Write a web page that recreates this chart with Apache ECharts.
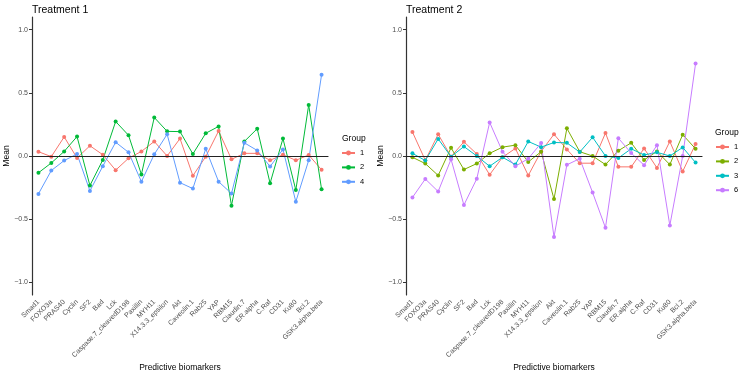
<!DOCTYPE html>
<html>
<head>
<meta charset="utf-8">
<script src="https://cdn.jsdelivr.net/npm/echarts@6/dist/echarts.min.js"></script>
<style>
  html, body { margin: 0; padding: 0; background: #fff; }
  #chart { width: 747px; height: 377px; }
</style>
</head>
<body>
<div id="chart"></div>
<script>
const categories = ['Smad1', 'FOXO3a', 'PRAS40', 'Cyclin', 'SF2', 'Bad', 'Lck',
  'Caspase.7_cleavedD198', 'Paxillin', 'MYH11', 'X14.3.3_epsilon', 'Akt',
  'Caveolin.1', 'Rab25', 'YAP', 'RBM15', 'Claudin.7', 'ER.alpha', 'C.Raf',
  'CD31', 'Ku80', 'Bcl.2', 'GSK3.alpha.beta']
const yTicks = [-1, -0.5, 0, 0.5, 1]

// Treatment 1
const t1Groups = ['1', '2', '4']
const t1g1 = [0.034, -0.005, 0.151, -0.016, 0.081, 0.01, -0.112, -0.018, 0.036, 0.115, 0.0, 0.138,
  -0.156, -0.005, 0.198, -0.026, 0.021, 0.021, -0.034, 0.01, -0.034, 0.008, -0.109]
const t1g2 = [-0.133, -0.055, 0.036, 0.154, -0.234, -0.031, 0.273, 0.164, -0.146, 0.305, 0.195, 0.193,
  0.016, 0.18, 0.234, -0.393, 0.115, 0.216, -0.216, 0.138, -0.27, 0.404, -0.263]
const t1g4 = [-0.30, -0.115, -0.036, 0.016, -0.276, -0.081, 0.109, 0.029, -0.203, 0.013, 0.172, -0.211,
  -0.258, 0.057, -0.203, -0.297, 0.104, 0.044, -0.083, 0.052, -0.362, -0.034, 0.643]

// Treatment 2
const t2Groups = ['1', '2', '3', '6']
const t2g1 = [0.19, -0.034, 0.172, -0.005, 0.112, 0.016, -0.148, -0.01, 0.06, -0.154, 0.036, 0.172,
  0.052, -0.057, -0.057, 0.182, -0.086, -0.086, 0.06, -0.094, 0.115, -0.122, 0.094]
const t2g2 = [-0.01, -0.06, -0.154, 0.065, -0.107, -0.06, 0.021, 0.07, 0.086, -0.047, 0.034, -0.341,
  0.219, 0.034, 0.0, -0.068, 0.042, 0.104, -0.031, 0.036, -0.068, 0.169, 0.057]
const t2g3 = [0.021, -0.036, 0.135, -0.005, 0.075, 0.0, -0.081, -0.01, -0.068, 0.115, 0.07, 0.107,
  0.104, 0.031, 0.148, 0.0, -0.016, 0.057, 0.008, 0.029, 0.0, 0.068, -0.052]
const t2g6 = [-0.328, -0.182, -0.281, -0.026, -0.388, -0.18, 0.266, 0.034, -0.081, -0.021, 0.102, -0.641,
  -0.07, -0.021, -0.289, -0.568, 0.141, 0.023, -0.073, 0.086, -0.55, 0.0, 0.732]

const FONT = 'Liberation Sans'
const colorsT1 = ['#F8766D', '#00BA38', '#619CFF']
const colorsT2 = ['#F8766D', '#7CAE00', '#00BFC4', '#C77CFF']

const fmt = v => (v < 0 ? '\u2212' : '') + Math.abs(v).toFixed(1)

function xAxisFor(idx) {
  return {
    type: 'category', gridIndex: idx, data: categories, boundaryGap: true,
    name: 'Predictive biomarkers', nameLocation: 'middle', nameGap: 68,
    nameMoveOverlap: false,
    nameTextStyle: { color: '#000', fontSize: 8.5, fontFamily: FONT },
    axisLine: { lineStyle: { color: '#222', width: 1.1 } },
    axisTick: { alignWithLabel: true, length: 3, lineStyle: { color: '#333' } },
    axisLabel: { rotate: 45, fontSize: 7, color: '#4d4d4d', fontFamily: FONT,
      margin: 6, interval: 0 },
    splitLine: { show: false },
  }
}

function yAxisFor(idx) {
  return {
    type: 'value', gridIndex: idx, min: -1.1, max: 1.1,
    name: 'Mean', nameLocation: 'middle', nameGap: 21,
    nameMoveOverlap: false,
    nameTextStyle: { color: '#000', fontSize: 8.5, fontFamily: FONT },
    axisLine: { show: true, lineStyle: { color: '#333', width: 1.2 } },
    axisTick: { show: true, length: 3, customValues: yTicks, lineStyle: { color: '#333' } },
    axisLabel: { fontSize: 7, color: '#4d4d4d', fontFamily: FONT, margin: 4,
      customValues: yTicks, formatter: fmt },
    splitLine: { show: false },
  }
}

function lineSeries(name, data, color, idx, withZero) {
  const s = {
    name, type: 'line', xAxisIndex: idx, yAxisIndex: idx, data,
    symbol: 'circle', symbolSize: 4, z: 3,
    lineStyle: { width: 1, color }, itemStyle: { color },
  }
  if (withZero) {
    // horizontal reference line at 0
    s.markLine = {
      silent: true, symbol: 'none', label: { show: false },
      lineStyle: { color: '#222', width: 1.2, type: 'solid' },
      data: [{ yAxis: 0 }],
    }
  }
  return s
}

const titleStyle = size => ({ fontSize: size, fontWeight: 'normal', color: '#000', fontFamily: FONT })
const legendBase = {
  orient: 'vertical', itemWidth: 13, itemHeight: 6, itemGap: 6.4, selectedMode: false,
  textStyle: { fontSize: 7.5, color: '#000', fontFamily: FONT },
}

const chart = echarts.init(document.getElementById('chart'), null, { renderer: 'canvas' })
chart.setOption({
  animation: false,
  textStyle: { fontFamily: FONT },
  title: [
    { text: 'Treatment 1', left: 27, top: 0, textStyle: titleStyle(10.5) },
    { text: 'Treatment 2', left: 401, top: 0, textStyle: titleStyle(10.5) },
    { text: 'Group', left: 337, top: 129, textStyle: titleStyle(8.5) },
    { text: 'Group', left: 710, top: 123, textStyle: titleStyle(8.5) },
  ],
  legend: [
    Object.assign({}, legendBase, { data: t1Groups, left: 336, top: 144 }),
    Object.assign({}, legendBase, { data: t2Groups.map(g => ' ' + g), left: 710, top: 138,
      formatter: n => n.trim() }),
  ],
  grid: [
    { left: 32, top: 17, width: 296, height: 281 },
    { left: 406, top: 17, width: 296, height: 281 },
  ],
  xAxis: [xAxisFor(0), xAxisFor(1)],
  yAxis: [yAxisFor(0), yAxisFor(1)],
  series: [
    lineSeries('1', t1g1, colorsT1[0], 0, true),
    lineSeries('2', t1g2, colorsT1[1], 0),
    lineSeries('4', t1g4, colorsT1[2], 0),
    lineSeries(' 1', t2g1, colorsT2[0], 1, true),
    lineSeries(' 2', t2g2, colorsT2[1], 1),
    lineSeries(' 3', t2g3, colorsT2[2], 1),
    lineSeries(' 6', t2g6, colorsT2[3], 1),
  ],
})
</script>
</body>
</html>
